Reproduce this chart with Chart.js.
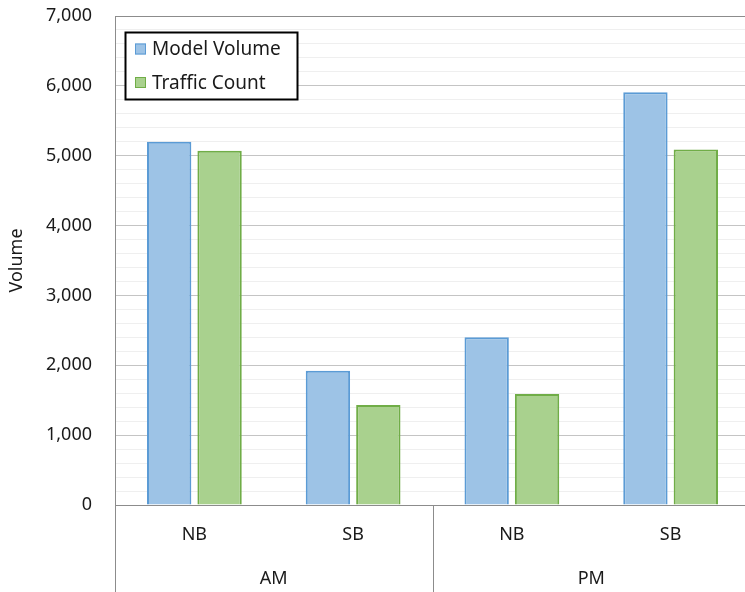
<!DOCTYPE html>
<html>
<head>
<meta charset="utf-8">
<script src="https://cdn.jsdelivr.net/npm/chart.js@4"></script>
<style>
  html, body { margin: 0; padding: 0; background: #ffffff; overflow: hidden; }
  #wrap { width: 745px; height: 592px; position: relative; overflow: hidden; }
  #chart { display: block; }
</style>
</head>
<body>
<div id="wrap"><canvas id="chart" width="750" height="592"></canvas></div>
<script>
// Directions within each peak period, and the period groups they belong to
const directions = ['NB', 'SB', 'NB', 'SB'];
const periods = ['AM', 'PM'];

// Volumes per direction (AM NB, AM SB, PM NB, PM SB)
const modelVolume = [5200, 1920, 2400, 5910];
const trafficCount = [5070, 1430, 1590, 5090];

// Y axis tick values that carry a label
const yTickLabels = [0, 1000, 2000, 3000, 4000, 5000, 6000, 7000];

const FONT = '"Noto Sans", "DejaVu Sans", sans-serif';
const TEXT = '#1a1a1a';

// Draws the boxed legend inside the plot and the group separators under the axis
const decorations = {
  id: 'decorations',
  afterDraw(chart) {
    const ctx = chart.ctx;
    const area = chart.chartArea;
    const x = chart.scales.x;

    // vertical separators between the period groups
    ctx.save();
    ctx.strokeStyle = '#8c8c8c';
    ctx.lineWidth = 1;
    const bounds = [area.left, (x.getPixelForValue(1) + x.getPixelForValue(2)) / 2, area.right - 1];
    bounds.forEach(px => {
      const xx = Math.round(px) + 0.5;
      ctx.beginPath();
      ctx.moveTo(xx, area.bottom);
      ctx.lineTo(xx, chart.height);
      ctx.stroke();
    });
    ctx.restore();

    // legend box
    const bx = 125.5, by = 32.5, bw = 172, bh = 67;
    ctx.save();
    ctx.fillStyle = '#ffffff';
    ctx.fillRect(bx, by, bw, bh);
    ctx.strokeStyle = '#000000';
    ctx.lineWidth = 2;
    ctx.strokeRect(bx, by, bw, bh);
    ctx.font = '19px ' + FONT;
    ctx.textBaseline = 'middle';
    ctx.textAlign = 'left';
    const rows = [49, 82.5];
    chart.data.datasets.forEach((ds, i) => {
      const cy = rows[i];
      ctx.fillStyle = ds.backgroundColor;
      ctx.fillRect(135, cy - 5.5, 11, 11);
      ctx.strokeStyle = ds.borderColor;
      ctx.lineWidth = 1;
      ctx.strokeRect(135.5, cy - 5, 10, 10);
      ctx.fillStyle = TEXT;
      ctx.fillText(ds.label, 152, cy + 1);
    });
    ctx.restore();
  }
};

// Scale hooks: fixed axis sizes, no extra label overhang padding
function noOverhang(s) {
  s.paddingTop = 0;
  s.paddingBottom = 0;
  s.paddingLeft = 0;
  s.paddingRight = 0;
}

new Chart(document.getElementById('chart'), {
  type: 'bar',
  data: {
    labels: directions,
    datasets: [
      {
        label: 'Model Volume',
        data: modelVolume,
        backgroundColor: '#9dc3e6',
        borderColor: '#5b9bd5',
        borderWidth: 2
      },
      {
        label: 'Traffic Count',
        data: trafficCount,
        backgroundColor: '#a9d18e',
        borderColor: '#70ad47',
        borderWidth: 2
      }
    ]
  },
  options: {
    responsive: false,
    animation: false,
    devicePixelRatio: 1,
    layout: { padding: { top: 16, right: 0, bottom: 0, left: 0 } },
    datasets: {
      bar: { categoryPercentage: 0.635, barPercentage: 0.88 }
    },
    plugins: {
      legend: { display: false },
      tooltip: { enabled: false }
    },
    scales: {
      x: {
        type: 'category',
        position: 'bottom',
        grid: { display: false, drawTicks: false },
        border: { display: true, color: '#8c8c8c', width: 1 },
        ticks: {
          color: TEXT,
          font: { family: FONT, size: 18 },
          padding: 19,
          maxRotation: 0
        },
        afterFit(s) { s.height = 55; noOverhang(s); }
      },
      x2: {
        type: 'category',
        position: 'bottom',
        labels: periods,
        offset: true,
        grid: { display: false, drawTicks: false },
        border: { display: false },
        ticks: {
          color: TEXT,
          font: { family: FONT, size: 18 },
          padding: 8,
          maxRotation: 0
        },
        afterFit(s) { s.height = 32; noOverhang(s); }
      },
      y: {
        min: 0,
        max: 7000,
        grid: {
          drawTicks: false,
          color(c) {
            const v = c.tick ? c.tick.value : 0;
            if (v === 7000) return '#8c8c8c';
            return yTickLabels.includes(v) ? '#c4c4c4' : '#efefef';
          },
          lineWidth: 1
        },
        border: { display: true, color: '#8c8c8c', width: 1 },
        ticks: {
          stepSize: 200,
          autoSkip: false,
          color: TEXT,
          font: { family: FONT, size: 18 },
          padding: 23,
          callback(v) {
            return yTickLabels.includes(v) ? v.toLocaleString('en-US') : '';
          }
        },
        title: {
          display: true,
          text: 'Volume',
          color: TEXT,
          font: { family: FONT, size: 18 },
          padding: { top: 6, bottom: 0 }
        },
        afterFit(s) { s.width = 115; noOverhang(s); }
      }
    }
  },
  plugins: [decorations]
});
</script>
</body>
</html>
